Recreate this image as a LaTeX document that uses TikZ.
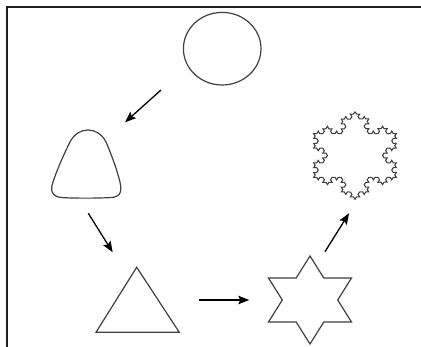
\documentclass[tikz,border=0pt]{standalone}
\usetikzlibrary{arrows.meta,decorations.fractals}
\begin{document}
\begin{tikzpicture}[x=1pt,y=-1pt,
  shapeline/.style={draw=black!75, line width=1.2pt, line join=miter},
  flowarrow/.style={draw=black, line width=1.3pt, -{Stealth[length=11pt,width=8.5pt,inset=2pt]}},
  framerule/.style={draw=black!88, line width=2pt}]
\useasboundingbox (0,0) rectangle (421,347);
% frame (top and left edges)
\coordinate (fbl) at (6.7,347);
\coordinate (ftl) at (6.7,6.7);
\coordinate (ftr) at (421,6.7);
\draw[framerule] (fbl) -- (ftl) -- (ftr);
% circle
\draw[shapeline] (222.2,48.7) ellipse [x radius=38.8pt, y radius=36.3pt];
% rounded triangle
\draw[shapeline] (70,142) .. controls (78,126) and (98,126) .. (106,142)
  .. controls (112,156) and (117,170) .. (120,182)
  .. controls (123,195) and (118,197.5) .. (108,197.7)
  .. controls (95,198.3) and (77,198.3) .. (64,197.7)
  .. controls (54,197.5) and (49,193) .. (53,182)
  .. controls (57,170) and (63,156) .. (70,142) -- cycle;
% triangle
\draw[shapeline] (136.7,267.3) -- (179.3,332.3) -- (96,332.3) -- cycle;
% hexagram
\draw[shapeline] (310,256) -- (323.8,278) -- (351.5,278) -- (337.7,300) -- (351.5,322)
  -- (323.8,322) -- (310,344) -- (296.2,322) -- (268.5,322) -- (282.3,300)
  -- (268.5,278) -- (296.2,278) -- cycle;
% Koch snowflake
\begin{scope}[transform canvas={shift={(355pt,-155.5pt)}, xscale=1.09}]
  \draw[shapeline, line width=1pt, decoration=Koch snowflake]
    decorate{decorate{decorate{ (0pt,43.8pt) -- (37.93pt,-21.9pt) -- (-37.93pt,-21.9pt) -- cycle }}};
\end{scope}
% arrows
\coordinate (a1s) at (161,90);    \coordinate (a1e) at (125,122.3);
\coordinate (a2s) at (88.3,213.3); \coordinate (a2e) at (112.7,252.3);
\coordinate (a3s) at (199,300);   \coordinate (a3e) at (249.3,300);
\coordinate (a4s) at (325,251.7); \coordinate (a4e) at (349,213.3);
\draw[flowarrow] (a1s) -- (a1e);
\draw[flowarrow] (a2s) -- (a2e);
\draw[flowarrow] (a3s) -- (a3e);
\draw[flowarrow] (a4s) -- (a4e);
\end{tikzpicture}
\end{document}
